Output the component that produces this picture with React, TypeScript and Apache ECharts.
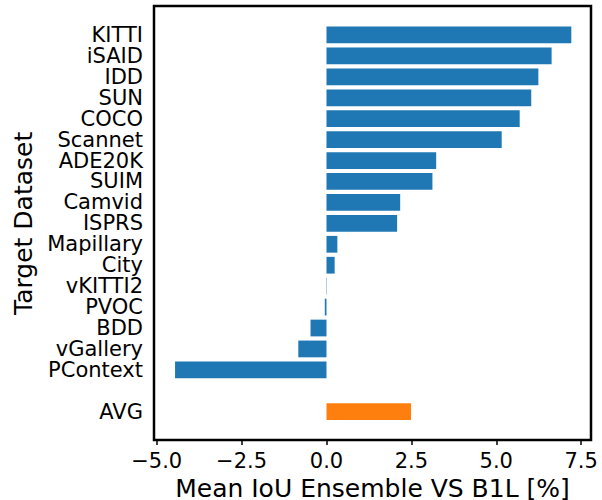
import React, { useEffect, useRef } from "react";
import * as echarts from "echarts";

const categories = [
  "KITTI", "iSAID", "IDD", "SUN", "COCO", "Scannet", "ADE20K", "SUIM",
  "Camvid", "ISPRS", "Mapillary", "City", "vKITTI2", "PVOC", "BDD",
  "vGallery", "PContext", "", "AVG",
];
const datasetValues = [
  7.21, 6.63, 6.24, 6.03, 5.69, 5.16, 3.23, 3.12,
  2.17, 2.08, 0.32, 0.24, 0.01, -0.05, -0.47,
  -0.83, -4.46,
];
const avgValue = 2.49;
const xTicks = [-5, -2.5, 0, 2.5, 5, 7.5];
const xMin = -5.08;
const xMax = 7.79;

const FONT = "DejaVu Sans";

export default function App() {
  const ref = useRef<HTMLDivElement>(null);
  useEffect(() => {
    if (!ref.current) return;
    const chart = echarts.init(ref.current, null, { renderer: "svg" });
    const seriesData: any[] = datasetValues.map((v) => ({
      value: v,
      itemStyle: { color: "#1f77b4" },
    }));
    seriesData.push("-");
    seriesData.push({ value: avgValue, itemStyle: { color: "#ff7f0e" } });
    const fmt = (v: number) => (v < 0 ? "\u2212" : "") + Math.abs(v).toFixed(1);
    chart.setOption({
      animation: false,
      backgroundColor: "#fff",
      grid: [
        {
          left: 154, right: 11, top: 6, bottom: 60,
          show: true, borderColor: "#000", borderWidth: 2.5,
          backgroundColor: "transparent", outerBoundsMode: "none",
          containLabel: false,
        },
        {
          left: 154, right: 11, top: 24.5, bottom: 77.8,
          outerBoundsMode: "none", containLabel: false,
        },
      ],
      xAxis: [
        {
          type: "value", gridIndex: 0, min: xMin, max: xMax,
          splitLine: { show: false },
          axisLine: { show: false },
          axisTick: {
            show: true, length: 5, customValues: xTicks,
            lineStyle: { color: "#000", width: 1.5 },
          },
          axisLabel: {
            customValues: xTicks, formatter: fmt, fontSize: 21,
            color: "#000", fontFamily: FONT, margin: 10, lineHeight: 21,
          },
          name: "Mean IoU Ensemble VS B1L [%]",
          nameLocation: "middle", nameGap: 33,
          nameTextStyle: { fontSize: 25, color: "#000", fontFamily: FONT, lineHeight: 24 },
        },
        {
          type: "value", gridIndex: 1, min: xMin, max: xMax, show: false,
          splitLine: { show: false },
        },
      ],
      yAxis: [
        {
          type: "value", gridIndex: 0, show: false, min: 0, max: 1,
          splitLine: { show: false },
        },
        {
          type: "category", gridIndex: 1, data: categories, inverse: true,
          axisLine: { show: false }, axisTick: { show: false },
          splitLine: { show: false },
          axisLabel: {
            fontSize: 21, color: "#000", fontFamily: FONT, margin: 11,
            interval: 0, lineHeight: 20,
          },
          name: "Target Dataset", nameLocation: "middle", nameGap: 117,
          nameTextStyle: { fontSize: 25, color: "#000", fontFamily: FONT, lineHeight: 24 },
        },
      ],
      series: [
        {
          type: "bar", xAxisIndex: 1, yAxisIndex: 1, data: seriesData,
          barWidth: "80%",
        },
      ],
    });
    return () => chart.dispose();
  }, []);
  return (
    <div
      ref={ref}
      style={{ position: "absolute", left: 0, top: 0, width: 602, height: 500 }}
    />
  );
}
